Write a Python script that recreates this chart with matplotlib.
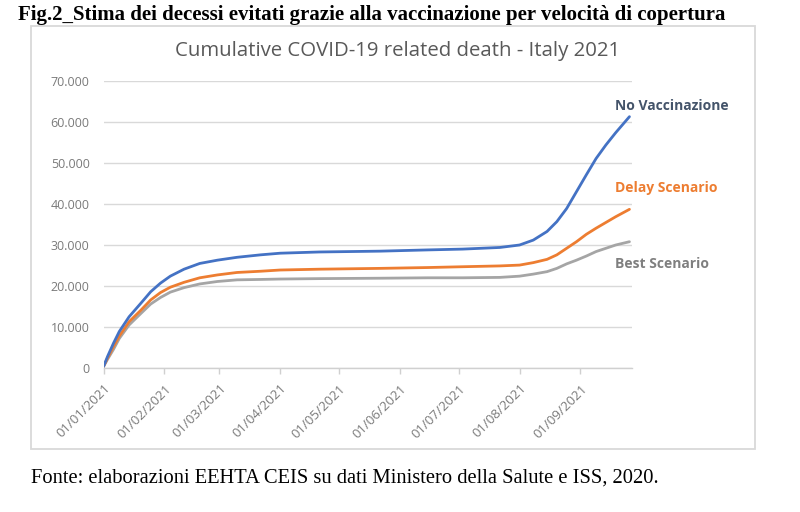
import matplotlib
matplotlib.use("Agg")
import matplotlib.pyplot as plt
import matplotlib.dates as mdates
from matplotlib.patches import Rectangle
from matplotlib.ticker import FuncFormatter
import pandas as pd

# ---- data ----
days = [0, 2, 5, 8, 13, 19, 24, 29, 34, 41, 49, 58, 68, 80, 90, 110, 141,
        165, 183, 202, 212, 219, 226, 231, 236, 241, 246, 251, 256, 261, 268]
no_vacc = [400, 2800, 6000, 8900, 12500, 15800, 18600, 20700, 22400, 24100,
           25500, 26300, 27000, 27600, 28000, 28300, 28500, 28800, 29000,
           29400, 30000, 31200, 33300, 35700, 38900, 43000, 47100, 51100,
           54400, 57400, 61300]
delay = [400, 2400, 5200, 7800, 11300, 14100, 16600, 18400, 19700, 20900,
         22000, 22700, 23300, 23600, 23900, 24100, 24300, 24500, 24700,
         24900, 25100, 25700, 26500, 27600, 29200, 30800, 32600, 34100,
         35500, 36900, 38700]
best = [400, 2100, 4500, 7200, 10500, 13300, 15600, 17200, 18500, 19600,
        20500, 21100, 21500, 21600, 21700, 21800, 21900, 22000, 22000,
        22100, 22400, 22900, 23500, 24300, 25400, 26300, 27300, 28400,
        29200, 30000, 30800]
series_names = ["No Vaccinazione", "Delay Scenario", "Best Scenario"]
month_ticks = ["2021-01-01", "2021-02-01", "2021-03-01", "2021-04-01",
               "2021-05-01", "2021-06-01", "2021-07-01", "2021-08-01",
               "2021-09-01"]
y_ticks = [0, 10000, 20000, 30000, 40000, 50000, 60000, 70000]

fig_title = "Fig.2_Stima dei decessi evitati grazie alla vaccinazione per velocità di copertura"
chart_title = "Cumulative COVID-19 related death - Italy 2021"
footer = "Fonte: elaborazioni EEHTA CEIS su dati Ministero della Salute e ISS, 2020."

base = pd.Timestamp("2021-01-01")
x = base + pd.to_timedelta(days, unit="D")

W, H = 800, 512
fig = plt.figure(figsize=(W / 100, H / 100), dpi=100)
fig.patch.set_facecolor("white")

def fx(px):
    return px / W

def fy(py):
    return 1 - py / H

# outer chart frame
fig.patches.append(Rectangle((fx(30.5), fy(449)), fx(755) - fx(30.5), fy(26) - fy(449),
                             transform=fig.transFigure, fill=False,
                             edgecolor="#D9D9D9", linewidth=1.3))

ax = fig.add_axes([fx(103.6), fy(368), fx(632) - fx(103.6), fy(81) - fy(368)])
ax.set_facecolor("none")

colors = ["#4472C4", "#ED7D31", "#A5A5A5"]
for vals, c in zip([best, delay, no_vacc], colors[::-1]):
    ax.plot(x, vals, color=c, linewidth=2.0, solid_capstyle="round",
            solid_joinstyle="round", zorder=3)

ax.set_ylim(0, 70000)
ax.set_yticks(y_ticks)
ax.yaxis.set_major_formatter(FuncFormatter(lambda v, p: "0" if v == 0 else f"{int(v):,}".replace(",", ".")))
ax.set_xlim(base, base + pd.Timedelta(days=269.3))
ax.set_xticks(pd.to_datetime(month_ticks))
ax.xaxis.set_major_formatter(mdates.DateFormatter("%d/%m/%Y"))

for s in ["left", "right", "top"]:
    ax.spines[s].set_visible(False)
ax.spines["bottom"].set_color("#D0D0D0")
ax.spines["bottom"].set_linewidth(1.0)
ax.grid(axis="y", color="#D9D9D9", linewidth=1.0, zorder=0)
ax.set_axisbelow(True)

lbl_font = "Open Sans"
ax.tick_params(axis="y", length=0, pad=10, labelsize=9, labelcolor="#7A7A7A")
ax.tick_params(axis="x", length=4, width=1, color="#D0D0D0", pad=6,
               labelsize=9.5, labelcolor="#7A7A7A")
for t in ax.get_yticklabels():
    t.set_fontfamily(lbl_font)
for t in ax.get_xticklabels():
    t.set_fontfamily(lbl_font)
    t.set_rotation(45)
    t.set_ha("right")
    t.set_rotation_mode("anchor")

# series labels
label_colors = ["#44546A", "#ED7D31", "#7F7F7F"]
label_pos = [(615, 106), (615, 188), (615, 264)]
for name, c, (px, py) in zip(series_names, label_colors, label_pos):
    fig.text(fx(px), fy(py), name, color=c, fontsize=10, fontweight="bold",
             family=lbl_font, ha="left", va="center")

# chart title
fig.text(fx(398), fy(51), chart_title, color="#595959", fontsize=14.7,
         family=lbl_font, ha="center", va="center")

# figure title & footer (serif)
t1 = fig.text(fx(18), fy(20), fig_title, color="black", fontsize=14,
              family="Liberation Serif", fontweight="bold", ha="left", va="baseline")
t2 = fig.text(fx(31), fy(483), footer, color="black", fontsize=12,
              family="Liberation Serif", ha="left", va="baseline")

# fit text widths to the reference
fig.canvas.draw()
r = fig.canvas.get_renderer()
for t, target in [(t1, 709), (t2, 627)]:
    w = t.get_window_extent(r).width
    t.set_fontsize(t.get_fontsize() * target / w)

fig.savefig("out.png", dpi=100, facecolor="white")
